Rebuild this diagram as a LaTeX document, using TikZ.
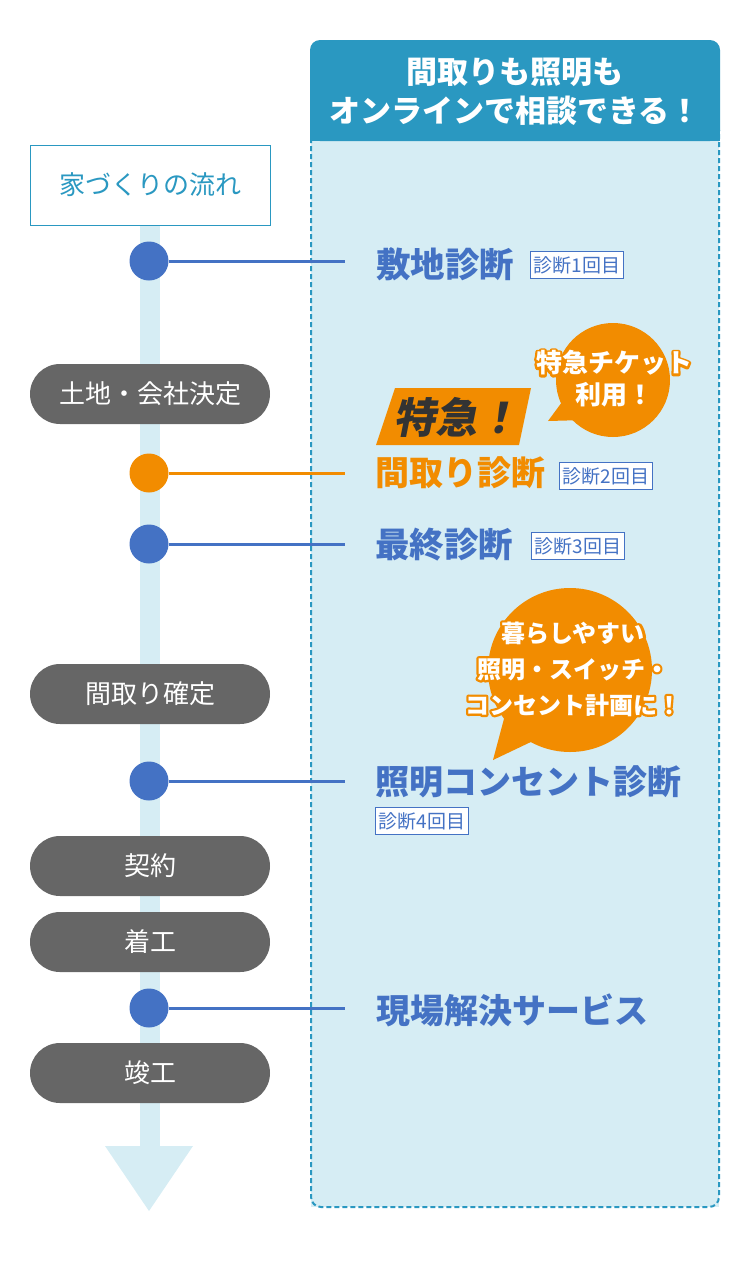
\documentclass[tikz,border=0pt]{standalone}
\usepackage{fontspec}
\setmainfont{Noto Sans CJK JP}
\newfontfamily\slantjp[FakeSlant=0.2]{Noto Sans CJK JP}
\definecolor{hdr}{HTML}{2A98C1}
\definecolor{panel}{HTML}{D6EDF4}
\definecolor{blu}{HTML}{4472C4}
\definecolor{org}{HTML}{F28C00}
\definecolor{gry}{HTML}{666666}
\definecolor{dk}{HTML}{333333}
% white text with an orange outline behind it
\newcommand{\outl}[1]{\rlap{\color{org}\special{pdf:literal direct 1 Tr 4.5 w 1 j 1 J}#1\special{pdf:literal direct 0 Tr 1 w 0 j 0 J}}#1}
\tikzset{
  dot/.style={circle,fill=#1,minimum size=39pt,inner sep=0pt},
  link/.style={draw=#1,line width=3pt},
  pill/.style={rounded corners=30pt,fill=gry,text=white,minimum width=240pt,minimum height=60pt,font=\fontsize{26}{26}\selectfont},
  biglabel/.style={anchor=west,inner sep=0pt,font=\fontsize{34}{34}\selectfont\bfseries,text=#1},
  tag/.style={draw=blu,line width=1.5pt,fill=white,text=blu,inner sep=0pt,minimum width=93pt,minimum height=27pt,font=\fontsize{19}{19}\selectfont},
  bubtext/.style={text=white,align=center,inner sep=0pt}
}
\begin{document}
\begin{tikzpicture}[x=1pt,y=-1pt]
\useasboundingbox (0,0) rectangle (750,1280);
% right panel
\fill[panel] (311,130) rectangle (719,1207);
\draw[hdr,line width=2pt,dash pattern=on 5pt off 3pt,rounded corners=10pt] (311,130) -- (311,1207) -- (719,1207) -- (719,130);
\fill[hdr,rounded corners=10pt] (310,141) -- (310,40) -- (720,40) -- (720,141) -- cycle;
\fill[hdr] (310,125) rectangle (720,141);
\node[text=white,align=center,font=\fontsize{31}{39}\selectfont\bfseries] (head) at (515,92) {間取りも照明も\\オンラインで相談できる！};
% timeline bar
\fill[panel] (140,225) rectangle (160,1147);
\fill[panel] (105,1146) -- (193,1146) -- (149,1211) -- cycle;
% title box
\node[draw=hdr,line width=1pt,fill=white,text=hdr,minimum width=240pt,minimum height=80pt,font=\fontsize{26}{26}\selectfont] (title) at (150,185) {家づくりの流れ};
% pills
\node[pill] (p1) at (150,394) {土地・会社決定};
\node[pill] (p2) at (150,694) {間取り確定};
\node[pill] (p3) at (150,866) {契約};
\node[pill] (p4) at (150,942) {着工};
\node[pill] (p5) at (150,1073) {竣工};
% dots and links
\coordinate (e1) at (345,261);
\coordinate (e2) at (345,473);
\coordinate (e3) at (345,544);
\coordinate (e4) at (345,781);
\coordinate (e5) at (345,1008);
\node[dot=blu] (c1) at (149,261) {};
\node[dot=org] (c2) at (149,473) {};
\node[dot=blu] (c3) at (149,544) {};
\node[dot=blu] (c4) at (149,781) {};
\node[dot=blu] (c5) at (149,1008) {};
\draw[link=blu] (c1) -- (e1);
\draw[link=org] (c2) -- (e2);
\draw[link=blu] (c3) -- (e3);
\draw[link=blu] (c4) -- (e4);
\draw[link=blu] (c5) -- (e5);
% labels
\node[biglabel=blu,font=\fontsize{34.5}{34.5}\selectfont\bfseries] (l1) at (376,264) {敷地診断};
\node[tag] (t1) at (577,265) {診断1回目};
\node[biglabel=org] (l2) at (375,473) {間取り診断};
\node[tag] (t2) at (606,476) {診断2回目};
\node[biglabel=blu,font=\fontsize{34.5}{34.5}\selectfont\bfseries] (l3) at (375,545) {最終診断};
\node[tag] (t3) at (578,546) {診断3回目};
\node[biglabel=blu] (l4) at (375,782) {照明コンセント診断};
\node[tag] (t4) at (422,821) {診断4回目};
\node[biglabel=blu] (l5) at (376,1010) {現場解決サービス};
% tokkyu badge
\fill[org] (395,388) -- (531,388) -- (519,445) -- (376,445) -- cycle;
\node[text=dk,inner sep=0pt,font=\fontsize{42}{42}\selectfont\bfseries\slantjp] (tk) at (456,417) {特急！};
% bubble 1
\fill[org] (613,380) circle (57pt);
\fill[org] (565,398) -- (548,421) -- (585,420) -- cycle;
\node[bubtext,font=\fontsize{26}{32}\selectfont\bfseries] (b1) at (614,379) {\outl{特急チケット}\\\outl{利用！}};
% bubble 2
\fill[org] (570,670) circle (82pt);
\fill[org] (505,715) -- (493,760) -- (535,740) -- cycle;
\node[bubtext,font=\fontsize{24}{36}\selectfont\bfseries] (b2) at (573,669) {\outl{暮らしやすい}\\\outl{照明・スイッチ・}\\\outl{コンセント計画に！}};
\end{tikzpicture}
\end{document}
